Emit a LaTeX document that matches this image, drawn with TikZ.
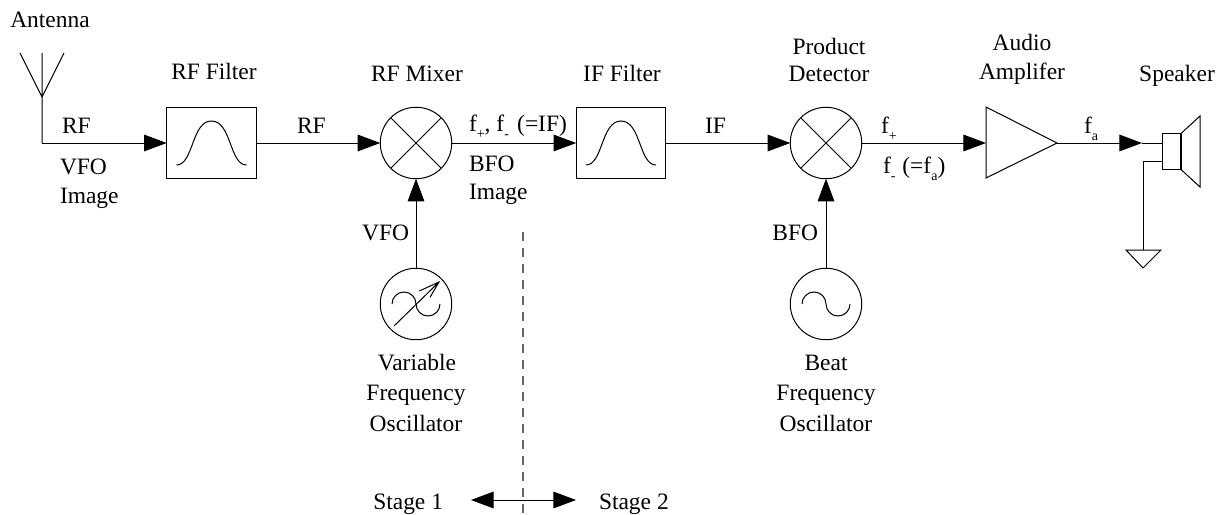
\documentclass[tikz,border=0pt]{standalone}
\usepackage{fontspec}
\setmainfont{Liberation Serif}
\usetikzlibrary{arrows.meta}
\newcommand{\lowsub}[1]{\raisebox{-0.32em}{\fontsize{10.5pt}{11pt}\selectfont #1}}
\tikzset{
  x=0.75pt,y=-0.75pt,
  every path/.style={line width=0.75pt},
  txt/.style={inner sep=0pt,outer sep=0pt,font=\fontsize{17.6pt}{20pt}\selectfont},
  round/.style={draw,circle,inner sep=0pt,outer sep=0pt,minimum size=53.6pt},
  filterbox/.style={draw,rectangle,inner sep=0pt,outer sep=0pt,minimum width=67.2pt,minimum height=53.4pt},
  sig/.style={-{Triangle[length=17pt,width=12.5pt]}},
  sigboth/.style={{Triangle[length=17pt,width=12.5pt]}-{Triangle[length=17pt,width=12.5pt]}},
  divider/.style={line width=1pt,dash pattern=on 7pt off 5pt,draw=black!60},
  pics/bandpass/.style={code={\draw (-35,22) .. controls (-18,22) and (-20,-22) .. (0,-22) .. controls (20,-22) and (18,22) .. (35,22);}},
  pics/sinewave/.style={code={\draw (-24,0) arc[start angle=180,end angle=360,x radius=12,y radius=12] arc[start angle=180,end angle=0,x radius=12,y radius=12];}},
}
\begin{document}
\begin{tikzpicture}
\useasboundingbox (0,0) rectangle (1223,514);
% antenna
\coordinate (antL) at (20,53);
\coordinate (antM) at (42,53);
\coordinate (antR) at (64,53);
\coordinate (antJ) at (42,97);
\coordinate (antB) at (42,143);
\draw (antL) -- (antJ) -- (antR) (antM) -- (antB);
% blocks
\node[filterbox] (rff) at (211.5,143) {};
\pic at (rff.center) {bandpass};
\node[round] (mix) at (416,143) {};
\draw (mix.45) -- (mix.225) (mix.135) -- (mix.315);
\node[filterbox] (iff) at (621,143) {};
\pic at (iff.center) {bandpass};
\node[round] (det) at (826,143) {};
\draw (det.45) -- (det.225) (det.135) -- (det.315);
\node[round] (vfo) at (416,304) {};
\pic at (vfo.center) {sinewave};
\coordinate (vA) at (394,326);
\coordinate (vB) at (439,282);
\coordinate (vC) at (419.3,291);
\coordinate (vD) at (430,297.3);
\draw (vA) -- (vB) (vC) -- (vB) -- (vD);
\node[round] (bfo) at (826,304) {};
\pic at (bfo.center) {sinewave};
% amplifier
\coordinate (ampT) at (986,107);
\coordinate (ampB) at (986,178);
\coordinate (ampI) at (986,143);
\coordinate (ampO) at (1057,143);
\draw (ampT) -- (ampO) -- (ampB) -- cycle;
% speaker
\coordinate (spkA) at (1162,133.5);
\coordinate (spkB) at (1181,133.5);
\coordinate (spkC) at (1181,169.5);
\coordinate (spkD) at (1162,169.5);
\coordinate (spkE) at (1200,116);
\coordinate (spkF) at (1200,187);
\coordinate (spkI) at (1162,143);
\coordinate (spkG) at (1162,161);
\coordinate (spkH) at (1143,161);
\coordinate (gndT) at (1143,250);
\coordinate (gndL) at (1126,250);
\coordinate (gndR) at (1161,250);
\coordinate (gndP) at (1143,268);
\coordinate (spkMid) at (1142,143);
\draw (spkB) -- (spkA) -- (spkD) -- (spkC);
\draw[line width=1.3pt] (spkB) -- (spkC);
\draw (spkB) -- (spkE) -- (spkF) -- (spkC);
\draw (spkG) -- (spkH) -- (gndT);
\draw (gndL) -- (gndR) -- (gndP) -- cycle;
% connectors
\draw[sig] (antB) -- (rff.west);
\draw[sig] (rff.east) -- (mix.west);
\draw[sig] (mix.east) -- (iff.west);
\draw[sig] (iff.east) -- (det.west);
\draw[sig] (det.east) -- (ampI);
\draw[sig] (ampO) -- (spkMid);
\draw (spkMid) -- (spkI);
\draw[sig] (vfo.north) -- (mix.south);
\draw[sig] (bfo.north) -- (det.south);
% stage divider
\coordinate (divT) at (523,232);
\coordinate (divB) at (523,514);
\coordinate (stL) at (471,500);
\coordinate (stR) at (576,500);
\draw[divider] (divT) -- (divB);
\draw[sigboth] (stL) -- (stR);
% labels
\node[txt,anchor=base] (tAnt) at (50,27.5) {Antenna};
\node[txt,anchor=base] (tRff) at (214,79) {RF Filter};
\node[txt,anchor=base west] (tRf1) at (62,133) {RF};
\node[txt,anchor=base west] (tV1) at (60,174) {VFO};
\node[txt,anchor=base west] (tI1) at (60,203) {Image};
\node[txt,anchor=base west] (tRf2) at (297,133) {RF};
\node[txt,anchor=base] (tMix) at (417,81) {RF Mixer};
\node[txt,anchor=base west] (tF1) at (469,131) {f\lowsub{+}, f\lowsub{-}\kern1.8pt\ (=IF)};
\node[txt,anchor=base west] (tB1) at (469,171) {BFO};
\node[txt,anchor=base west] (tI2) at (469,199) {Image};
\node[txt,anchor=base east] (tV2) at (409,240) {VFO};
\node[txt,anchor=base] (tVar) at (417,370) {Variable};
\node[txt,anchor=base] (tFr1) at (416,400) {Frequency};
\node[txt,anchor=base] (tOs1) at (416,431) {Oscillator};
\node[txt,anchor=base] (tIff) at (622,81) {IF Filter};
\node[txt,anchor=base west] (tIf) at (705,133) {IF};
\node[txt,anchor=base] (tPro) at (829,54) {Product};
\node[txt,anchor=base] (tDet) at (829,81) {Detector};
\node[txt,anchor=base west] (tFp) at (881,133) {f\lowsub{+}};
\node[txt,anchor=base west] (tFm) at (883,173) {f\lowsub{-}\kern0.8pt\ (=f\lowsub{a})};
\node[txt,anchor=base east] (tB2) at (818,240) {BFO};
\node[txt,anchor=base] (tBea) at (826,370) {Beat};
\node[txt,anchor=base] (tFr2) at (826,400) {Frequency};
\node[txt,anchor=base] (tOs2) at (826,431) {Oscillator};
\node[txt,anchor=base] (tAud) at (1022,50) {Audio};
\node[txt,anchor=base] (tAmp) at (1022,79) {Amplifer};
\node[txt,anchor=base] (tSpk) at (1177,81) {Speaker};
\node[txt,anchor=base west] (tFa) at (1084,133) {f\lowsub{a}};
\node[txt,anchor=base east] (tS1) at (443,509) {Stage 1};
\node[txt,anchor=base west] (tS2) at (599,509) {Stage 2};
\end{tikzpicture}
\end{document}
